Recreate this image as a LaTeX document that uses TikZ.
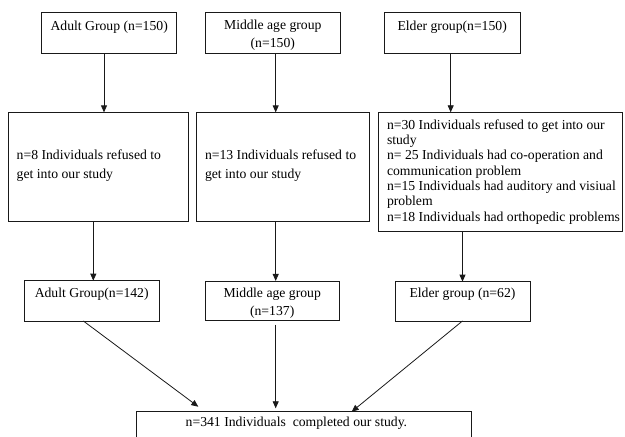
\documentclass[tikz,border=0pt]{standalone}
\usepackage{fontspec}
\setmainfont{Liberation Serif}
\usetikzlibrary{arrows.meta}
\begin{document}
\begin{tikzpicture}[x=1pt,y=-1pt,
  box/.style={draw=black!90,line width=0.9pt,rectangle,inner sep=0pt,outer sep=0pt},
  txt/.style={inner sep=0pt,outer sep=0pt,font=\fontsize{13.7}{16}\selectfont},
  arr/.style={draw=black!90,line width=0.8pt,-{Triangle[length=7pt,width=6pt]}}]
\clip (0,0) rectangle (625,437);
% boxes
\node[box,minimum width=135pt,minimum height=41pt] (a1) at (109.2,32.8) {};
\node[box,minimum width=135.7pt,minimum height=41pt] (m1) at (272.8,32.8) {};
\node[box,minimum width=135.7pt,minimum height=41pt] (e1) at (452.2,32.8) {};
\node[box,minimum width=180pt,minimum height=108.7pt] (a2) at (98.3,166.7) {};
\node[box,minimum width=173pt,minimum height=108.7pt] (m2) at (282.5,166.7) {};
\node[box,minimum width=244.4pt,minimum height=119.4pt] (e2) at (500.5,172) {};
\node[box,minimum width=135.3pt,minimum height=40.3pt] (a3) at (91.7,300.8) {};
\node[box,minimum width=134.3pt,minimum height=39.7pt] (m3) at (272.2,300.8) {};
\node[box,minimum width=135pt,minimum height=39.3pt] (e3) at (462.5,301.3) {};
\node[box,minimum width=335pt,minimum height=40pt] (b) at (304.2,431.7) {};
% texts
\node[txt,anchor=base] (ta1) at (109.2,30) {Adult Group (n=150)};
\node[txt,anchor=base] (tm1a) at (272.8,29.5) {Middle age group};
\node[txt,anchor=base] (tm1b) at (272.8,47.5) {(n=150)};
\node[txt,anchor=base] (te1) at (452.2,30) {Elder group(n=150)};
\node[txt,anchor=base west] (ta2a) at (16.7,159.3) {n=8 Individuals refused to};
\node[txt,anchor=base west] (ta2b) at (16.7,178.3) {get into our study};
\node[txt,anchor=base west] (tm2a) at (205,159.3) {n=13 Individuals refused to};
\node[txt,anchor=base west] (tm2b) at (205,178.3) {get into our study};
\node[txt,anchor=base west] (te2a) at (387,129.3) {n=30 Individuals refused to get into our};
\node[txt,anchor=base west] (te2b) at (387,144.6) {study};
\node[txt,anchor=base west] (te2c) at (387,159.9) {n= 25 Individuals had co-operation and};
\node[txt,anchor=base west] (te2d) at (387,175.2) {communication problem};
\node[txt,anchor=base west] (te2e) at (387,190.5) {n=15 Individuals had auditory and visiual};
\node[txt,anchor=base west] (te2f) at (387,205.8) {problem};
\node[txt,anchor=base west] (te2g) at (387,221.1) {n=18 Individuals had orthopedic problems};
\node[txt,anchor=base] (ta3) at (91.7,297.3) {Adult Group(n=142)};
\node[txt,anchor=base] (tm3a) at (272.2,297.5) {Middle age group};
\node[txt,anchor=base] (tm3b) at (272.2,315) {(n=137)};
\node[txt,anchor=base] (te3) at (462.5,297.3) {Elder group (n=62)};
\node[txt,anchor=base west] (tb) at (185.7,426.7) {n=341 Individuals\ \ completed our study.};
% connectors
\draw[arr] ([xshift=-5.2pt]a1.south) -- ([xshift=-5.2pt]a1.south |- a2.north);
\draw[arr] ([xshift=2.9pt]m1.south) -- ([xshift=2.9pt]m1.south |- m2.north);
\draw[arr] ([xshift=-1.5pt]e1.south) -- ([xshift=-1.5pt]e1.south |- e2.north);
\draw[arr] ([xshift=1.6pt]a3.north |- a2.south) -- ([xshift=1.6pt]a3.north);
\draw[arr] ([xshift=3.5pt]m3.north |- m2.south) -- ([xshift=3.5pt]m3.north);
\draw[arr] (e3.north |- e2.south) -- (e3.north);
\draw[arr] ([xshift=-8.4pt]a3.south) -- ([xshift=-105.9pt,yshift=5pt]b.north);
\draw[arr,shorten >=3.4pt] ([xshift=3.5pt,yshift=-4pt]m3.south) -- ([xshift=3.5pt]m3.south |- b.north);
\draw[arr] (e3.south) -- ([xshift=47.5pt]b.north);
\end{tikzpicture}
\end{document}
